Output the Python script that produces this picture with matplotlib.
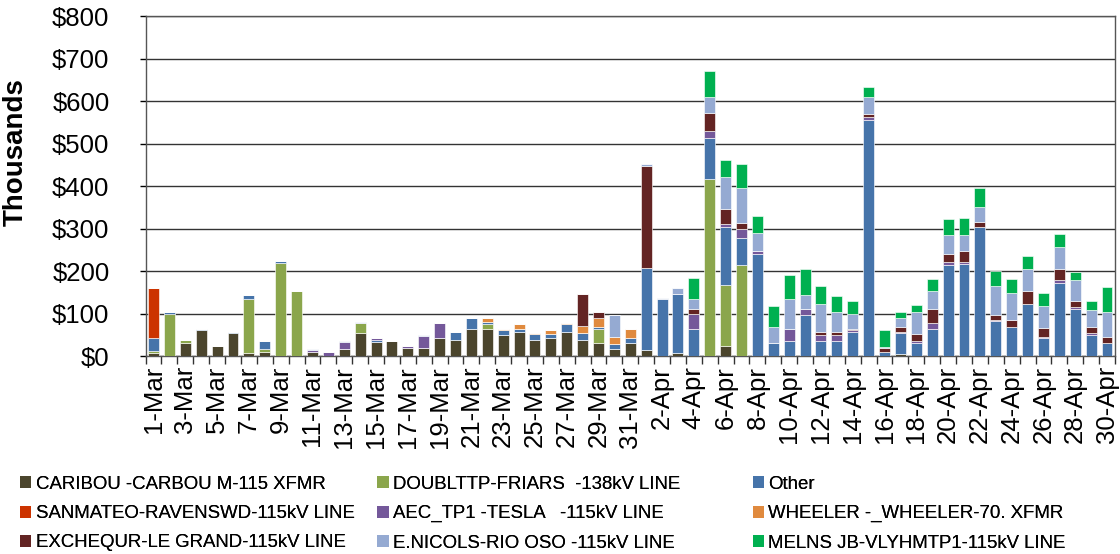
import numpy as np
import pandas as pd
import matplotlib
matplotlib.use('Agg')
import matplotlib.pyplot as plt
from matplotlib.patches import Patch

plt.rcParams['font.family'] = ['Liberation Sans', 'DejaVu Sans']

# Days 1-Mar .. 30-Apr
dates = pd.date_range('2013-03-01', '2013-04-30', freq='D')
day_labels = [f'{d.day}-{d.strftime("%b")}' for d in dates]

series_names = [
    'CARIBOU -CARBOU M-115 XFMR',
    'DOUBLTTP-FRIARS  -138kV LINE',
    'Other',
    'SANMATEO-RAVENSWD-115kV LINE',
    'AEC_TP1 -TESLA   -115kV LINE',
    'WHEELER -_WHEELER-70. XFMR',
    'EXCHEQUR-LE GRAND-115kV LINE',
    'E.NICOLS-RIO OSO -115kV LINE',
    'MELNS JB-VLYHMTP1-115kV LINE',
]
colors = ['#4b452d', '#8ba64c', '#4674aa', '#cc3300', '#74589a',
          '#e08a3e', '#632423', '#95aad2', '#00b050']

# values in $ thousands, one entry per day
caribou = [7, 0, 31, 62, 24, 54, 8, 9, 0, 0, 9, 0, 17, 54, 33, 35, 20, 20, 42, 38,
           64, 64, 50, 57, 38, 42, 57, 38, 31, 17, 31,
           14, 0, 8, 0, 0, 25, 0, 0, 0, 0, 0, 0, 0, 0, 0, 0, 5, 0, 0,
           0, 0, 0, 0, 0, 0, 0, 0, 0, 0, 0]
doubltp = [6, 100, 8, 0, 0, 0, 126, 7, 219, 153, 0, 0, 0, 24, 0, 0, 0, 0, 0, 0,
           0, 11, 0, 0, 0, 0, 0, 0, 33, 0, 0,
           0, 0, 0, 0, 417, 142, 214, 0, 0, 0, 0, 0, 0, 0, 0, 0, 0, 0, 0,
           0, 0, 0, 0, 0, 0, 0, 0, 0, 0, 0]
other = [30, 5, 0, 3, 0, 2, 9, 20, 5, 0, 0, 0, 0, 0, 5, 0, 0, 0, 0, 18,
         26, 5, 11, 7, 15, 11, 18, 17, 4, 11, 11,
         194, 135, 139, 64, 97, 137, 65, 241, 31, 35, 98, 36, 36, 58, 555, 11, 50, 31, 64,
         214, 218, 303, 82, 68, 123, 43, 172, 112, 50, 32]
sanmateo = [117] + [0] * 60
aec = [0, 0, 0, 0, 0, 0, 0, 0, 0, 0, 5, 9, 16, 0, 4, 0, 4, 28, 36, 0,
       0, 0, 0, 0, 0, 0, 0, 0, 0, 0, 0,
       0, 0, 0, 36, 16, 8, 21, 7, 0, 29, 13, 15, 13, 3, 7, 0, 3, 4, 14,
       7, 3, 0, 4, 0, 0, 3, 7, 4, 4, 0]
wheeler = [0] * 21 + [9, 3, 12, 1, 9, 4, 17, 21, 17, 21] + [0] * 30
exchequr = [0] * 27 + [75, 14, 0, 0,
            240, 0, 0, 12, 43, 35, 14, 0, 0, 0, 0, 6, 8, 3, 8, 9, 10, 18, 34,
            20, 27, 13, 10, 18, 30, 20, 25, 15, 14, 14]
enicols = [0, 0, 0, 0, 1, 0, 0, 0, 0, 0, 2, 2, 2, 3, 0, 0, 1, 2, 0, 1,
           0, 0, 0, 0, 0, 0, 0, 0, 0, 51, 1,
           3, 3, 13, 22, 37, 75, 82, 42, 37, 70, 34, 66, 47, 36, 40, 1, 22, 50, 42,
           44, 37, 34, 68, 63, 51, 53, 52, 48, 41, 58]
melns = [0] * 34 + [49, 61, 39, 55, 40, 49, 56, 61, 42, 38, 30, 23, 41, 15, 17, 28,
                    37, 39, 45, 37, 32, 32, 30, 31, 19, 20, 58]

data = [caribou, doubltp, other, sanmateo, aec, wheeler, exchequr, enicols, melns]

fig = plt.figure(figsize=(11.2, 5.54), dpi=100)
ax = fig.add_axes([0.130, 0.357, 0.8655, 0.614])

x = np.arange(len(day_labels))
bottom = np.zeros(len(x))
for vals, name, c in zip(data, series_names, colors):
    vals = np.array(vals, dtype=float)
    ax.bar(x, vals, width=0.69, bottom=bottom, color=c, label=name,
           edgecolor=(1, 1, 1, 0.6), linewidth=0.7, zorder=3)
    bottom += vals

ax.set_xlim(-0.5, len(x) - 0.5)
ax.set_ylim(0, 800)
ax.set_yticks(range(0, 801, 100))
ax.set_yticklabels([f'${v}' for v in range(0, 801, 100)], fontsize=18.5)
ax.yaxis.grid(True, color='#333333', linewidth=1, zorder=0)
ax.tick_params(axis='y', length=4, width=1, pad=22)

# tick marks between days, labels on every other day
ax.set_xticks(np.arange(-0.5, len(x), 1))
ax.set_xticklabels([])
ax.tick_params(axis='x', which='major', length=6, width=1, color='#333333')
ax.set_xticks(x[::2], minor=True)
ax.set_xticklabels(day_labels[::2], minor=True, rotation=90, fontsize=18.5)
ax.tick_params(axis='x', which='minor', length=0, pad=7)

for s in ax.spines.values():
    s.set_color('#555555')
    s.set_linewidth(1)

ax.set_ylabel('Thousands', fontsize=20, fontweight='bold')
ax.yaxis.set_label_coords(-0.121, 0.6)

# legend: one block per column, entries laid out row by row
handles = [Patch(facecolor=c, edgecolor='none') for c in colors]
col_x = [0.018, 0.337, 0.672]
for j in range(3):
    idx = [j, j + 3, j + 6]
    leg = fig.legend([handles[i] for i in idx], [series_names[i] for i in idx],
                     loc='upper left', bbox_to_anchor=(col_x[j], 0.141),
                     frameon=False, fontsize=13.4, handlelength=0.6,
                     handleheight=0.6, handletextpad=0.25, labelspacing=0.66,
                     borderaxespad=0, borderpad=0)
    fig.add_artist(leg)

fig.savefig('out.png', dpi=100)
